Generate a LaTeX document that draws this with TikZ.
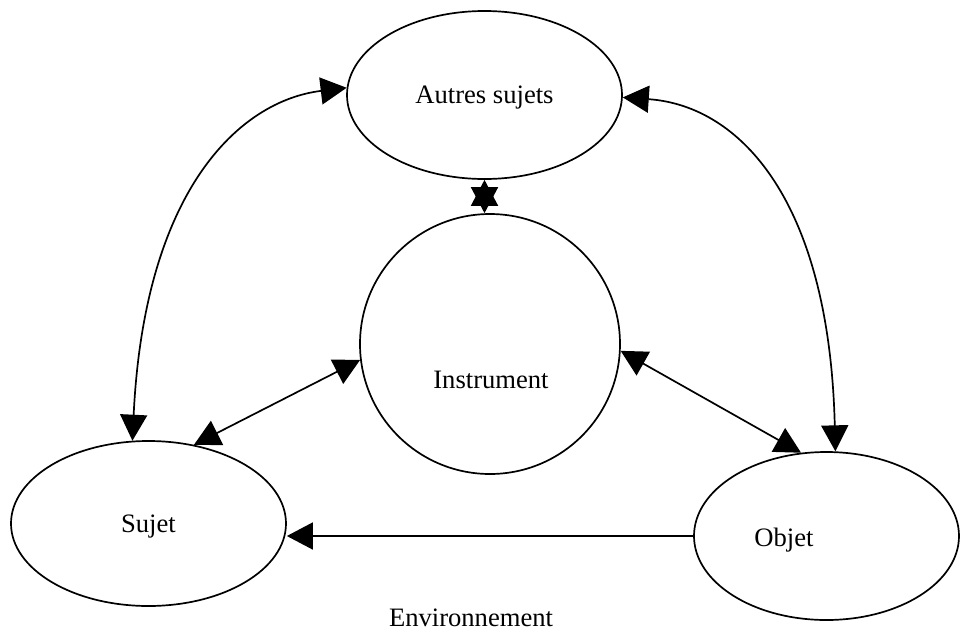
\documentclass[tikz,border=0pt]{standalone}
\usepackage{fontspec}
\setmainfont{Liberation Serif}
\usepackage{tikz}
\usetikzlibrary{arrows.meta, shapes.geometric, calc}

\begin{document}
\begin{tikzpicture}[
  x=0.5pt, y=-0.5pt,
  >={Triangle[length=13pt, width=13.5pt]},
  every node/.style={font=\fontsize{13.3}{16}\selectfont, text depth=0pt},
  pole/.style={ellipse, draw, line width=0.85pt, inner sep=0pt},
  link/.style={<->, line width=0.85pt},
]
  \useasboundingbox (0,0) rectangle (960,633);

  % the four poles
  \node[pole, minimum width=137.5pt, minimum height=84pt]
    (aut) at (484.5,95) {Autres sujets};
  \node[circle, draw, line width=0.85pt, minimum size=130pt, inner sep=0pt]
    (ins) at (490,344) {};
  \node (instxt) at (491,380) {Instrument};
  \node[pole, minimum width=137.5pt, minimum height=82.5pt]
    (suj) at (148.5,523.5) {Sujet};
  \node[pole, minimum width=132.5pt, minimum height=84pt]
    (obj) at (826.5,536) {};
  \node (objtxt) at (784,537) {Objet};

  \node (env) at (471,618) {Environnement};

  % links
  \draw[link] (suj.101) .. controls +(12,-251) and +(-107,13) .. (aut.177);
  \draw[link] (obj.84) .. controls +(-6,-251) and +(117,8) .. (aut.359);
  \draw[link] (aut.south) -- (aut.south |- ins.north);
  \draw[link] (suj.60) -- (ins.187);
  \draw[link] (ins.357) -- (obj.107);
  \draw[->, line width=0.85pt] (obj.west) -- (obj.west -| suj.east);
\end{tikzpicture}
\end{document}
